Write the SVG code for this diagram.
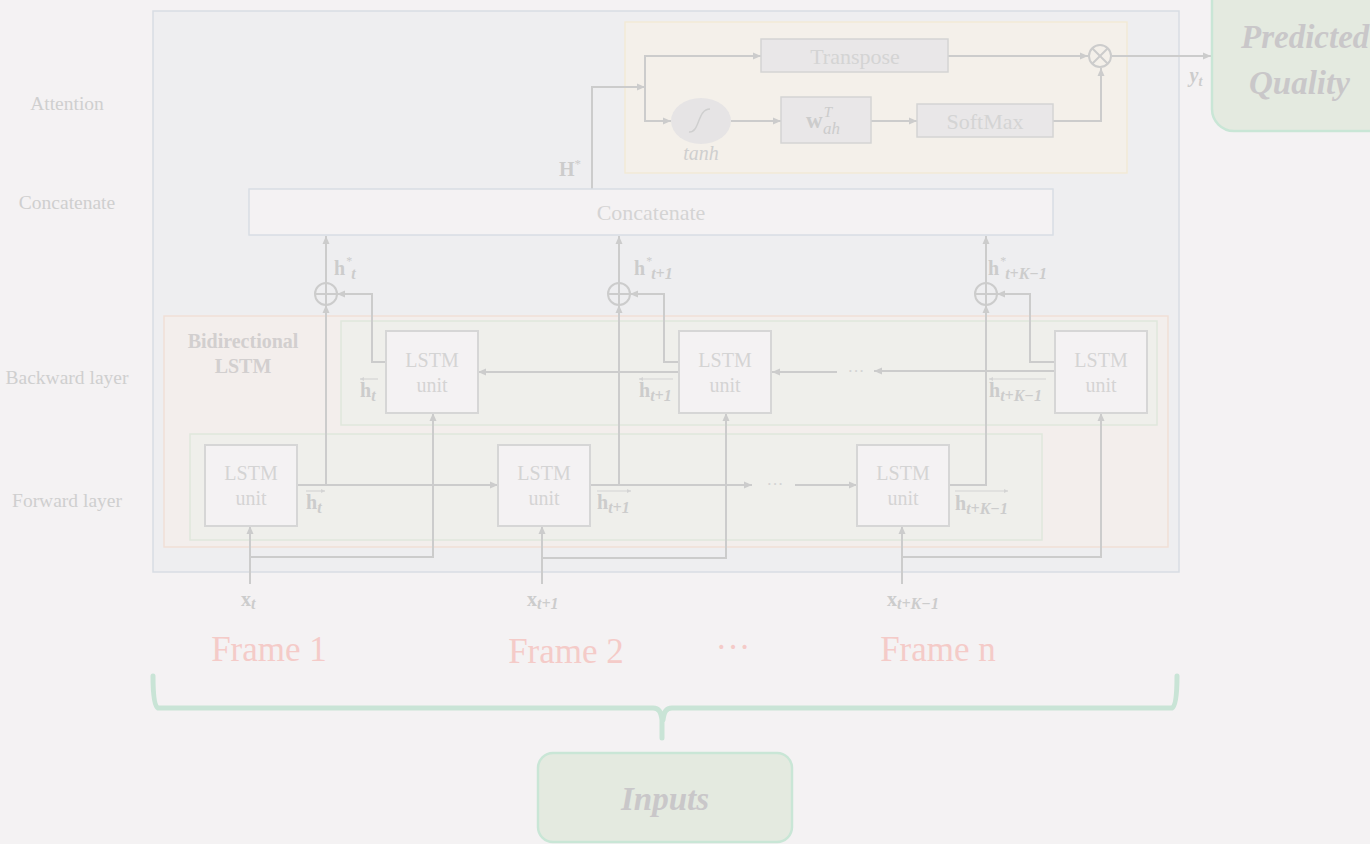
<svg xmlns="http://www.w3.org/2000/svg" width="1370" height="844" viewBox="0 0 1370 844">
<defs>
<marker id="ah" markerWidth="9" markerHeight="8" refX="8" refY="4" orient="auto" markerUnits="userSpaceOnUse"><path d="M0,0.5 L8,4 L0,7.5 z" fill="#cccccc"/></marker>
<marker id="sm" markerWidth="5" markerHeight="4" refX="4" refY="2" orient="auto" markerUnits="userSpaceOnUse"><path d="M0,0 L4,2 L0,4 z" fill="#d4d4d4"/></marker>
<style>
.bg{fill:#f4f2f3}
.lbl{font-family:"Liberation Serif",serif;font-size:19.5px;fill:#cfcfcf;text-anchor:middle}
.box{fill:#f4f2f3;stroke:#d6d6d6;stroke-width:2}
.ut{font-family:"Liberation Serif",serif;font-size:20px;fill:#d4d4d4;text-anchor:middle}
.ut2{font-family:"Liberation Serif",serif;font-size:22px;fill:#d4d4d4;text-anchor:middle}
.m{font-family:"Liberation Serif",serif;font-size:20px;fill:#cccccc;font-weight:bold}
.mi{font-style:italic;font-size:16px}
.c{fill:none;stroke:#cccccc;stroke-width:2}
.cm{fill:none;stroke:#cccccc;stroke-width:2;marker-end:url(#ah)}
.op{fill:none;stroke:#cccccc;stroke-width:2}
.fr{font-family:"Liberation Serif",serif;font-size:35px;fill:#f4cbc8;text-anchor:middle}
.big{font-family:"Liberation Serif",serif;font-size:33px;font-weight:bold;font-style:italic;fill:#c9c7c9;text-anchor:middle}
.sa{stroke:#d4d4d4;stroke-width:1.2;fill:none}
</style>
</defs>
<rect class="bg" x="0" y="0" width="1370" height="844"/>

<g id="side-labels">
<text class="lbl" x="67" y="110">Attention</text>
<text class="lbl" x="67" y="209">Concatenate</text>
<text class="lbl" x="67" y="384">Backward layer</text>
<text class="lbl" x="67" y="507">Forward layer</text>
</g>

<g id="main-panel"><rect x="153" y="11" width="1026" height="561" fill="#eeeef0" stroke="#d8dde4" stroke-width="1.5"/></g>
<g id="attention-panel"><rect x="625" y="22" width="502" height="151" fill="#f4f0ea" stroke="#f2ead6" stroke-width="1.5"/></g>
<g id="bilstm-panel">
<rect x="164" y="316" width="1004" height="231" fill="#f3eeec" stroke="#f1dfd6" stroke-width="1.5"/>
<text x="243" y="348" font-family="Liberation Serif,serif" font-size="20" font-weight="bold" fill="#d2cfcf" text-anchor="middle">Bidirectional</text>
<text x="243" y="373" font-family="Liberation Serif,serif" font-size="20" font-weight="bold" fill="#d2cfcf" text-anchor="middle">LSTM</text>
</g>
<g id="backward-panel"><rect x="341" y="321" width="816" height="104" fill="#efefeb" stroke="#e0e7dc" stroke-width="1.5"/></g>
<g id="forward-panel"><rect x="190" y="434" width="852" height="106" fill="#efefeb" stroke="#e0e7dc" stroke-width="1.5"/></g>

<g id="connectors">
<path class="c" d="M592,189 V87 H645"/>
<path class="cm" d="M592,87 H645"/>
<path class="cm" d="M645,87 V56 H761"/>
<path class="cm" d="M645,87 V121 H671"/>
<path class="cm" d="M731,121 H781"/>
<path class="cm" d="M871,121 H917"/>
<path class="cm" d="M948,56 H1088"/>
<path class="cm" d="M1053,121 H1101 V68"/>
<path class="cm" d="M1112,56 H1211"/>
<path class="cm" d="M326,283 V236"/>
<path class="cm" d="M619,283 V236"/>
<path class="cm" d="M986,283 V236"/>
<path class="cm" d="M326,485 V305"/>
<path class="cm" d="M619,485 V305"/>
<path class="cm" d="M949,485 H986 V305"/>
<path class="cm" d="M386,362 H372 V294 H337"/>
<path class="cm" d="M679,362 H664 V294 H630"/>
<path class="cm" d="M1055,362 H1030 V294 H997"/>
<path class="cm" d="M297,485 H498"/>
<path class="cm" d="M590,485 H752"/>
<path class="cm" d="M795,485 H857"/>
<path class="cm" d="M679,372 H478"/>
<path class="cm" d="M1055,371 H874"/>
<path class="cm" d="M837,372 H772"/>
<path class="cm" d="M250,584 V526"/>
<path class="cm" d="M542,584 V526"/>
<path class="cm" d="M902,584 V526"/>
<path class="cm" d="M250,557 H433 V413"/>
<path class="cm" d="M542,558 H726 V413"/>
<path class="cm" d="M902,557 H1101 V413"/>
</g>

<g id="transpose"><rect x="761" y="39" width="187" height="33" fill="#e9e7e8" stroke="#d4d4d4" stroke-width="1.5"/><text class="ut2" x="855" y="64">Transpose</text></g>
<g id="tanh"><ellipse cx="701" cy="121" rx="30" ry="23" fill="#e6e4e5"/><path d="M689,132 C700,133 697,109 710,109" fill="none" stroke="#cfcfcf" stroke-width="1.5"/><text x="701" y="160" font-family="Liberation Serif,serif" font-size="20" font-style="italic" fill="#cfcfcf" text-anchor="middle">tanh</text></g>
<g id="w-ah"><rect x="781" y="97" width="90" height="46" fill="#e9e7e8" stroke="#d4d4d4" stroke-width="1.5"/><text x="806" y="128" font-family="Liberation Serif,serif" font-size="23" font-weight="bold" fill="#cccccc">w<tspan font-size="15" font-style="italic" font-weight="normal" dx="1" dy="-11">T</tspan><tspan font-size="17" font-style="italic" font-weight="normal" dx="-9" dy="17">ah</tspan></text></g>
<g id="softmax"><rect x="917" y="104" width="136" height="33" fill="#e9e7e8" stroke="#d4d4d4" stroke-width="1.5"/><text class="ut2" x="985" y="129">SoftMax</text></g>
<g id="otimes"><circle class="op" cx="1100" cy="56" r="11"/><path class="op" d="M1092.2,48.2 L1107.8,63.8 M1107.8,48.2 L1092.2,63.8"/></g>
<g id="yt-label"><text x="1196" y="82" font-family="Liberation Serif,serif" font-size="20" font-style="italic" font-weight="bold" fill="#cccccc" text-anchor="middle">y<tspan font-size="14" dy="4">t</tspan></text></g>

<g id="predicted-quality"><rect x="1212" y="-30" width="190" height="161" rx="22" fill="#e4eae0" stroke="#c9e6d6" stroke-width="2.5"/><text class="big" x="1241" y="48" font-size="31" style="text-anchor:start">Predicted</text><text class="big" x="1249" y="94" font-size="31" style="text-anchor:start">Quality</text></g>

<g id="hstar"><text class="m" x="559" y="176">H<tspan font-size="13" font-weight="normal" dy="-8">*</tspan></text></g>

<g id="concatenate"><rect x="249" y="189" width="804" height="46" fill="#f4f2f3" stroke="#d8dde4" stroke-width="1.5"/><text class="ut2" x="651" y="220">Concatenate</text></g>

<g id="plus1"><circle class="op" cx="326" cy="294" r="11"/><path class="op" d="M315,294 H337 M326,283 V305"/></g>
<g id="plus2"><circle class="op" cx="619" cy="294" r="11"/><path class="op" d="M608,294 H630 M619,283 V305"/></g>
<g id="plus3"><circle class="op" cx="986" cy="294" r="11"/><path class="op" d="M975,294 H997 M986,283 V305"/></g>

<g id="hstar-labels">
<text class="m" x="334" y="275">h<tspan font-weight="normal" font-size="12" dy="-10" dx="1">*</tspan><tspan class="mi" dx="-1" dy="14">t</tspan></text>
<text class="m" x="634" y="275">h<tspan font-weight="normal" font-size="12" dy="-10" dx="1">*</tspan><tspan class="mi" dx="-1" dy="14">t+1</tspan></text>
<text class="m" x="988" y="275">h<tspan font-weight="normal" font-size="12" dy="-10" dx="1">*</tspan><tspan class="mi" dx="-1" dy="14">t+K−1</tspan></text>
</g>

<g id="b-lstm1"><rect class="box" x="386" y="331" width="92" height="82"/><text class="ut" x="432" y="367">LSTM</text><text class="ut" x="432" y="392">unit</text></g>
<g id="b-lstm2"><rect class="box" x="679" y="331" width="92" height="82"/><text class="ut" x="725" y="367">LSTM</text><text class="ut" x="725" y="392">unit</text></g>
<g id="b-lstm3"><rect class="box" x="1055" y="331" width="92" height="82"/><text class="ut" x="1101" y="367">LSTM</text><text class="ut" x="1101" y="392">unit</text></g>
<g id="f-lstm1"><rect class="box" x="205" y="445" width="92" height="81"/><text class="ut" x="251" y="480">LSTM</text><text class="ut" x="251" y="505">unit</text></g>
<g id="f-lstm2"><rect class="box" x="498" y="445" width="92" height="81"/><text class="ut" x="544" y="480">LSTM</text><text class="ut" x="544" y="505">unit</text></g>
<g id="f-lstm3"><rect class="box" x="857" y="445" width="92" height="81"/><text class="ut" x="903" y="480">LSTM</text><text class="ut" x="903" y="505">unit</text></g>

<g id="dots">
<text x="856" y="377" font-family="Liberation Serif,serif" font-size="17" fill="#d4d4d4" text-anchor="middle">···</text>
<text x="775" y="490" font-family="Liberation Serif,serif" font-size="17" fill="#d4d4d4" text-anchor="middle">···</text>
</g>

<g id="h-backward-labels">
<path class="sa" d="M378,379 H360" marker-end="url(#sm)"/>
<text class="m" x="360" y="397">h<tspan class="mi" dy="4">t</tspan></text>
<path class="sa" d="M673,379 H639" marker-end="url(#sm)"/>
<text class="m" x="639" y="397">h<tspan class="mi" dy="4">t+1</tspan></text>
<path class="sa" d="M1046,379 H989" marker-end="url(#sm)"/>
<text class="m" x="989" y="397">h<tspan class="mi" dy="4">t+K−1</tspan></text>
</g>
<g id="h-forward-labels">
<path class="sa" d="M306,491 H325" marker-end="url(#sm)"/>
<text class="m" x="306" y="509">h<tspan class="mi" dy="4">t</tspan></text>
<path class="sa" d="M597,491 H631" marker-end="url(#sm)"/>
<text class="m" x="597" y="509">h<tspan class="mi" dy="4">t+1</tspan></text>
<path class="sa" d="M955,491 H1008" marker-end="url(#sm)"/>
<text class="m" x="955" y="510">h<tspan class="mi" dy="4">t+K−1</tspan></text>
</g>

<g id="x-labels">
<text class="m" x="241" y="606">x<tspan class="mi" font-size="18" dy="3">t</tspan></text>
<text class="m" x="527" y="606">x<tspan class="mi" font-size="18" dy="3">t+1</tspan></text>
<text class="m" x="887" y="606">x<tspan class="mi" font-size="18" dy="3">t+K−1</tspan></text>
</g>

<g id="frames">
<text class="fr" x="269" y="661">Frame 1</text>
<text class="fr" x="566" y="663">Frame 2</text>
<text class="fr" x="733" y="659" font-size="22">···</text>
<text class="fr" x="938" y="661">Frame n</text>
</g>

<g id="brace"><path d="M153,676 C153,690 154,706 158,708 H653 C659,708 661,712 662,720 V738 M1177,676 C1177,690 1176,706 1172,708 H672 C666,708 664,712 663,720" fill="none" stroke="#c9e4d6" stroke-width="5" stroke-linecap="round"/></g>

<g id="inputs"><rect x="538" y="753" width="254" height="89" rx="15" fill="#e4eae0" stroke="#c9e6d6" stroke-width="2.5"/><text class="big" x="665" y="810">Inputs</text></g>
</svg>
